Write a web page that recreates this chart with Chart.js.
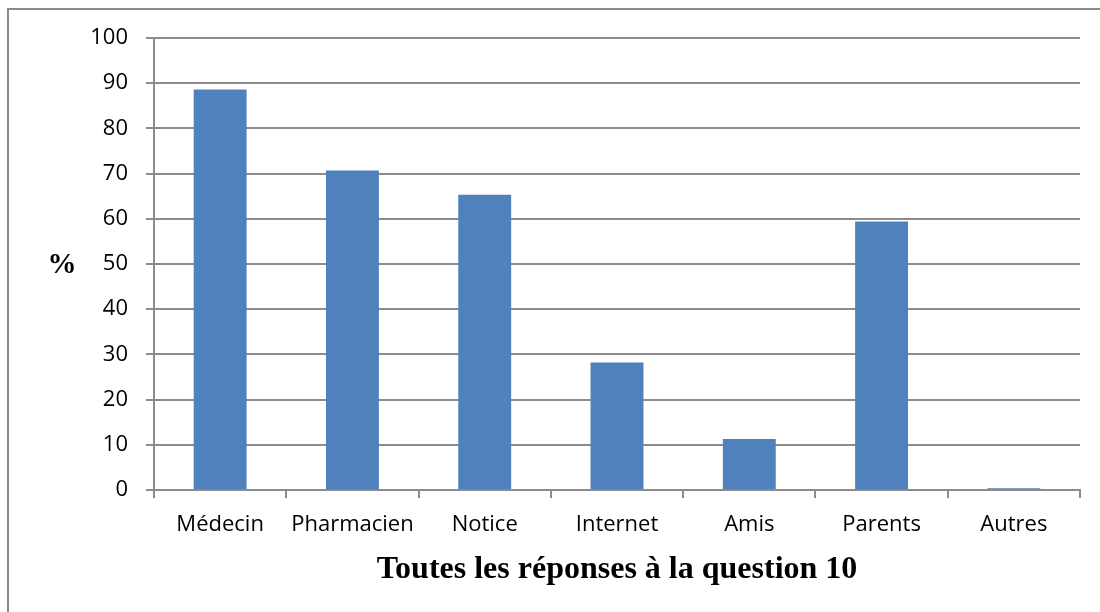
<!DOCTYPE html>
<html>
<head>
<meta charset="utf-8">
<script src="https://cdn.jsdelivr.net/npm/chart.js@4/dist/chart.umd.min.js"></script>
<style>
  html, body { margin: 0; padding: 0; background: #fff; }
  #wrap { position: relative; width: 1100px; height: 612px; overflow: hidden; }
  #frame {
    position: absolute; left: 7px; top: 8px; width: 1200px; height: 700px;
    border-left: 2px solid #8a8a8a; border-top: 2px solid #8a8a8a;
  }
  canvas { position: absolute; left: 0; top: 0; }
</style>
</head>
<body>
<div id="wrap">
  <div id="frame"></div>
  <canvas id="chart" width="1100" height="612"></canvas>
</div>
<script>
const categories = ["Médecin", "Pharmacien", "Notice", "Internet", "Amis", "Parents", "Autres"];
const percentages = [88.6, 70.7, 65.3, 28.2, 11.3, 59.4, 0.4];
const yTicks = [0, 10, 20, 30, 40, 50, 60, 70, 80, 90, 100];

const gridColor = "#8c8c8c";

// "%" label drawn upright at the left, like the original
const percentLabel = {
  id: "percentLabel",
  afterDraw(chart) {
    const c = chart.ctx;
    c.save();
    c.font = "bold 29px 'Liberation Serif', 'Times New Roman', serif";
    c.fillStyle = "#000";
    c.textAlign = "center";
    c.textBaseline = "middle";
    c.fillText("%", 62, 266);
    c.restore();
  }
};

new Chart(document.getElementById("chart").getContext("2d"), {
  type: "bar",
  data: {
    labels: categories,
    datasets: [{
      data: percentages,
      backgroundColor: "#4F81BD",
      borderWidth: 0,
      categoryPercentage: 1,
      barPercentage: 0.4
    }]
  },
  options: {
    responsive: false,
    animation: false,
    layout: { padding: { top: 38, right: 20, bottom: 0, left: 0 } },
    plugins: {
      legend: { display: false },
      tooltip: { enabled: false }
    },
    scales: {
      x: {
        afterFit(scale) { scale.height = 122; },
        grid: {
          offset: true,
          drawOnChartArea: false,
          drawTicks: true,
          tickLength: 8,
          color: gridColor,
          lineWidth: 2
        },
        border: { color: gridColor, width: 2 },
        ticks: {
          color: "#000",
          padding: 14,
          font: { family: "'Open Sans', sans-serif", size: 22 }
        },
        title: {
          display: true,
          text: "Toutes les réponses à la question 10",
          color: "#000",
          font: { family: "'Liberation Serif', 'Times New Roman', serif", size: 32, weight: "bold" },
          padding: { top: 0, bottom: 23 }
        }
      },
      y: {
        min: 0,
        max: 100,
        afterFit(scale) { scale.width = 154; },
        afterBuildTicks(scale) { scale.ticks = yTicks.map(v => ({ value: v })); },
        grid: {
          color: gridColor,
          lineWidth: 2,
          tickLength: 8
        },
        border: { color: gridColor, width: 2 },
        ticks: {
          color: "#000",
          padding: 18,
          font: { family: "'Open Sans', sans-serif", size: 22 }
        }
      }
    }
  },
  plugins: [percentLabel]
});
</script>
</body>
</html>
